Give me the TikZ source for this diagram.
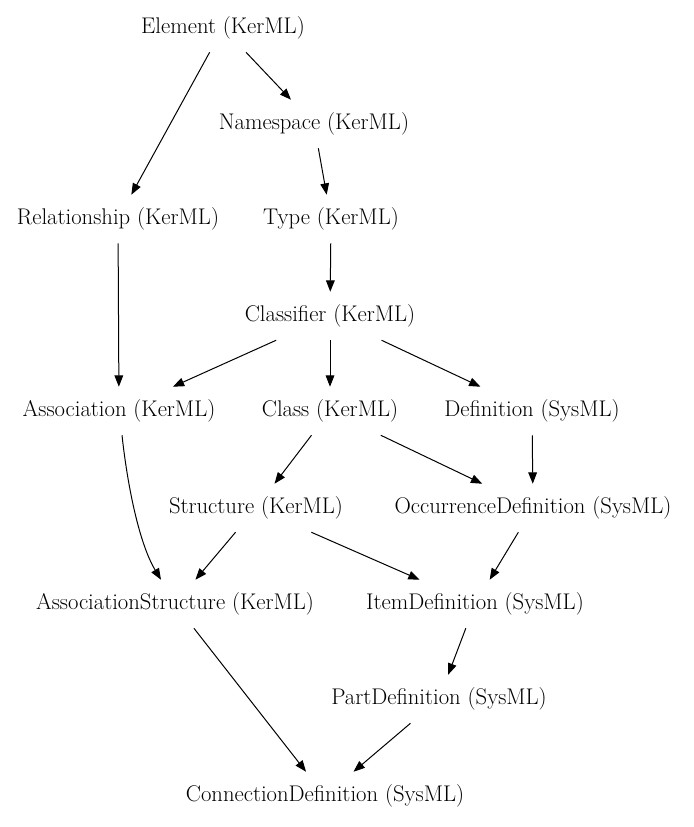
\documentclass[tikz,border=0pt]{standalone}
\usetikzlibrary{arrows.meta}
\begin{document}
\begin{tikzpicture}[x=0.75pt,y=-0.75pt,
  cls/.style={draw=none,rectangle,minimum height=36pt,inner xsep=4pt,inner ysep=0pt,font=\fontsize{17}{20}\selectfont},
  arr/.style={-{Triangle[length=8.5pt,width=6.5pt]},line width=0.75pt,black}]
\useasboundingbox (0,0) rectangle (693,827);
\node[cls] (element) at (223,28) {Element (KerML)};
\node[cls] (namespace) at (314,124) {Namespace (KerML)};
\node[cls] (relationship) at (118,219) {Relationship (KerML)};
\node[cls] (type) at (331,219) {Type (KerML)};
\node[cls] (classifier) at (330,316) {Classifier (KerML)};
\node[cls] (association) at (119,411) {Association (KerML)};
\node[cls] (class) at (330,411) {Class (KerML)};
\node[cls] (definition) at (532,411) {Definition (SysML)};
\node[cls] (structure) at (256,508) {Structure (KerML)};
\node[cls] (occurrence) at (533,508) {OccurrenceDefinition (SysML)};
\node[cls] (assocstruct) at (175,604) {AssociationStructure (KerML)};
\node[cls] (item) at (475,604) {ItemDefinition (SysML)};
\node[cls] (part) at (439,699) {PartDefinition (SysML)};
\node[cls] (connection) at (325,796) {ConnectionDefinition (SysML)};

\coordinate (astart) at ([xshift=2.25pt]association.south);
\coordinate (aend) at ([xshift=-10.5pt]assocstruct.north);

\draw[arr] (element) -- (relationship);
\draw[arr] (element) -- (namespace);
\draw[arr] (namespace) -- (type);
\draw[arr] (type) -- (classifier);
\draw[arr] (relationship) -- (association);
\draw[arr] (classifier) -- (association);
\draw[arr] (classifier) -- (class);
\draw[arr] (classifier) -- (definition);
\draw[arr] (astart) .. controls (128,490) and (140,545) .. (aend);
\draw[arr] (class) -- (structure);
\draw[arr] (class) -- (occurrence);
\draw[arr] (definition) -- (occurrence);
\draw[arr] (structure) -- (assocstruct);
\draw[arr] (structure) -- (item);
\draw[arr] (occurrence) -- (item);
\draw[arr] (assocstruct) -- (connection);
\draw[arr] (item) -- (part);
\draw[arr] (part) -- (connection);
\end{tikzpicture}
\end{document}
